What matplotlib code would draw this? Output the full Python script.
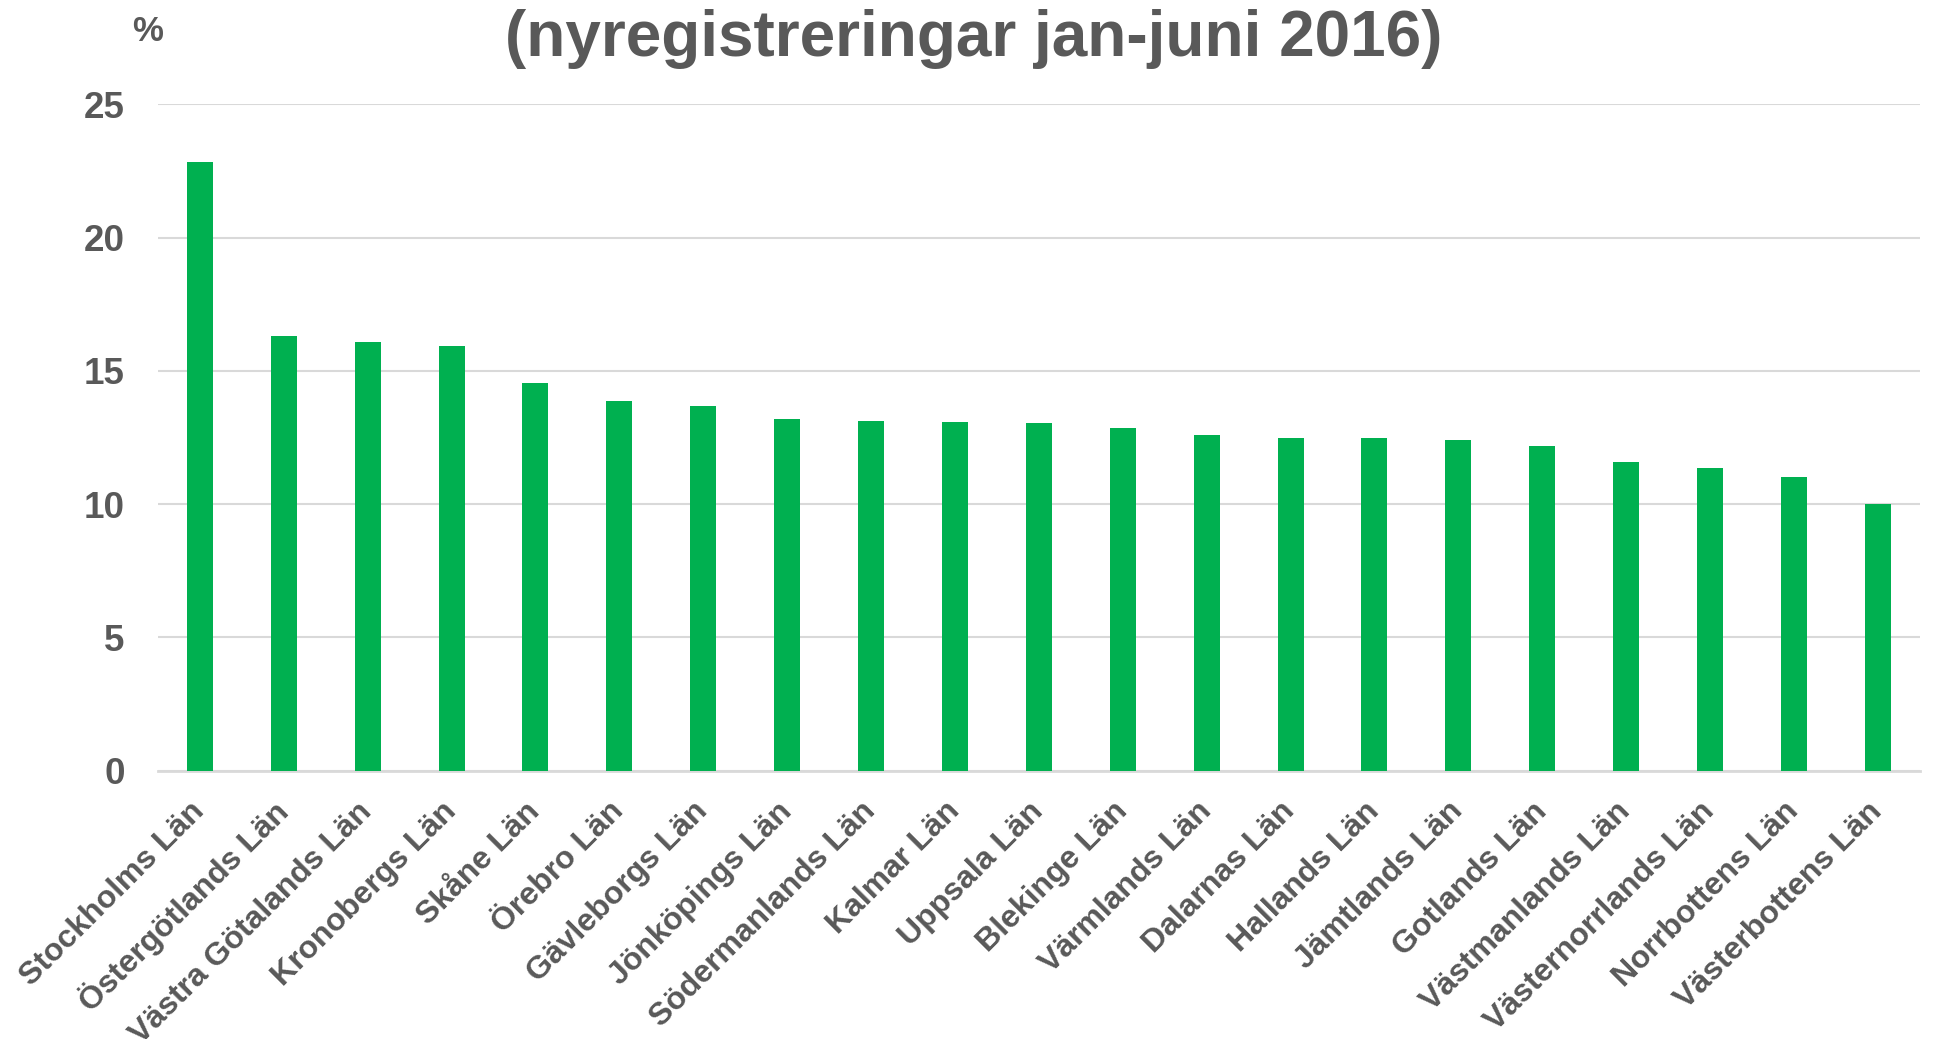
import matplotlib.pyplot as plt
import numpy as np

plt.rcParams['font.family'] = ['Liberation Sans', 'DejaVu Sans']

# --- data ---
lan = ["Stockholms Län", "Östergötlands Län", "Västra Götalands Län", "Kronobergs Län",
       "Skåne Län", "Örebro Län", "Gävleborgs Län", "Jönköpings Län", "Södermanlands Län",
       "Kalmar Län", "Uppsala Län", "Blekinge Län", "Värmlands Län", "Dalarnas Län",
       "Hallands Län", "Jämtlands Län", "Gotlands Län", "Västmanlands Län",
       "Västernorrlands Län", "Norrbottens Län", "Västerbottens Län"]
andel = [22.84, 16.32, 16.07, 15.92, 14.54, 13.87, 13.69, 13.21, 13.13, 13.08, 13.04,
         12.86, 12.61, 12.48, 12.48, 12.41, 12.19, 11.60, 11.37, 11.03, 10.00]
yticks = [0, 5, 10, 15, 20, 25]

GREEN = '#00B050'
TXT = '#595959'
GRID = '#D9D9D9'

fig = plt.figure(figsize=(19.49, 10.39), dpi=100)
ax = fig.add_axes([0.081, 0.2582, 0.904, 0.6413])

x = np.arange(len(lan))
ax.bar(x, andel, width=0.31, color=GREEN, zorder=3)

ax.set_xlim(-0.5, len(lan) - 0.5)
ax.set_ylim(0, 25)
ax.set_yticks(yticks)
ax.set_yticklabels([str(t) for t in yticks], fontsize=26.5, fontweight='bold', color=TXT)
ax.yaxis.grid(True, color=GRID, lw=1.5, zorder=0)
ax.tick_params(axis='y', length=0, pad=24)
ax.tick_params(axis='x', length=0, pad=26)

ax.set_xticks(x)
ax.set_xticklabels(lan, rotation=45, ha='right', va='center', rotation_mode='anchor',
                   fontsize=23, fontweight='bold', color=TXT)

for s in ['top', 'right', 'left']:
    ax.spines[s].set_visible(False)
ax.spines['bottom'].set_color(GRID)
ax.spines['bottom'].set_linewidth(2)

# titel (övre raden ligger utanför bilden i originalet)
fig.text(0.4995, 0.962, "(nyregistreringar jan-juni 2016)", ha='center', va='center',
         fontsize=46, fontweight='bold', color=TXT)
fig.text(0.0755, 0.970, "%", ha='center', va='center', fontsize=25, fontweight='bold', color=TXT)

fig.savefig("out.png", dpi=100)
